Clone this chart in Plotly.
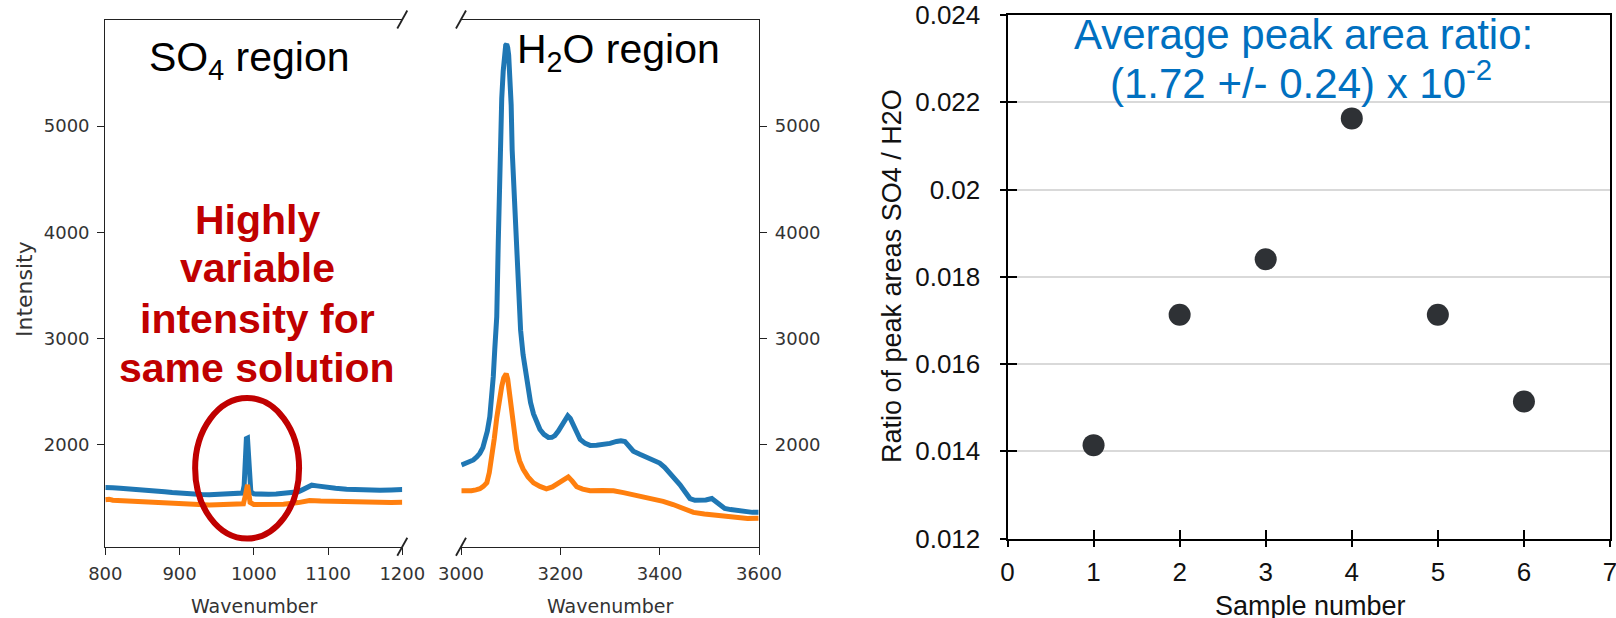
import plotly.graph_objects as go

# ---------------- data ----------------
so4_blue_wn = [800, 805, 810, 820, 830, 840, 850, 860, 870, 880, 890, 900, 910, 920, 930, 940, 950,
               960, 970, 980, 985, 987, 988.5, 990, 991.5, 993, 994.5, 996, 1000, 1010, 1020, 1030,
               1040, 1050, 1060, 1066, 1072, 1078, 1085, 1095, 1110, 1125, 1140, 1155, 1170, 1185, 1200]
so4_blue_int = [1600, 1604, 1598, 1592, 1588, 1586, 1580, 1575, 1568, 1560, 1552, 1545, 1540, 1536,
                1534, 1532, 1536, 1532, 1534, 1538, 1548, 1620, 1900, 2060, 2065, 1930, 1700, 1560,
                1540, 1535, 1536, 1538, 1542, 1548, 1560, 1580, 1605, 1622, 1615, 1602, 1592, 1584,
                1578, 1574, 1574, 1576, 1580]

so4_orange_wn = [800, 805, 810, 820, 830, 840, 850, 860, 870, 880, 890, 900, 910, 920, 930, 940, 950,
                 960, 970, 980, 986, 988.5, 990, 991.5, 993, 995, 1000, 1020, 1040, 1060, 1068, 1075,
                 1090, 1110, 1130, 1150, 1170, 1185, 1200]
so4_orange_int = [1485, 1490, 1480, 1476, 1472, 1468, 1465, 1460, 1455, 1450, 1446, 1442, 1440, 1438,
                  1436, 1435, 1437, 1437, 1439, 1440, 1446, 1520, 1610, 1625, 1560, 1460, 1440, 1438,
                  1442, 1458, 1468, 1478, 1472, 1468, 1464, 1460, 1458, 1460, 1462]

h2o_blue_wn = [3001, 3012, 3025, 3032, 3038, 3044, 3048, 3053, 3058, 3062, 3065, 3068, 3072, 3075,
               3078, 3080, 3082, 3085, 3088, 3090, 3092, 3094, 3096, 3099, 3101, 3103, 3106, 3109,
               3112, 3115, 3120, 3125, 3130, 3135, 3140, 3146, 3152, 3159, 3167, 3176, 3183, 3189,
               3196, 3203, 3209, 3215, 3220, 3226, 3233, 3240, 3250, 3260, 3273, 3286, 3300, 3313,
               3322, 3330, 3338, 3347, 3360, 3374, 3387, 3400, 3410, 3421, 3431, 3441, 3451, 3461,
               3471, 3481, 3493, 3505, 3510, 3515, 3523, 3531, 3543, 3555, 3565, 3575, 3587, 3599]
h2o_blue_int = [1812, 1830, 1859, 1888, 1922, 1975, 2031, 2130, 2266, 2440, 2643, 2900, 3207, 3900,
                4703, 5000, 5259, 5519, 5700, 5760, 5771, 5740, 5667, 5450, 5200, 4777, 4450, 4110,
                3720, 3368, 3080, 2849, 2670, 2515, 2400, 2293, 2210, 2145, 2100, 2071, 2072, 2088,
                2130, 2182, 2240, 2275, 2250, 2182, 2110, 2052, 2015, 1996, 1998, 2004, 2015, 2033,
                2040, 2033, 1990, 1941, 1912, 1885, 1860, 1830, 1790, 1737, 1680, 1626, 1560, 1496,
                1480, 1477, 1482, 1496, 1480, 1458, 1430, 1403, 1392, 1385, 1375, 1366, 1366, 1366]

h2o_orange_wn = [3001, 3012, 3021, 3030, 3038, 3045, 3052, 3057, 3062, 3067, 3072, 3077, 3082, 3086,
                 3089, 3091, 3094, 3097, 3100, 3104, 3108, 3112, 3118, 3125, 3135, 3146, 3159, 3172,
                 3184, 3196, 3206, 3216, 3224, 3233, 3245, 3260, 3285, 3307, 3327, 3347, 3367, 3387,
                 3407, 3427, 3447, 3468, 3490, 3515, 3535, 3555, 3577, 3599]
h2o_orange_int = [1570, 1566, 1570, 1578, 1588, 1610, 1644, 1740, 1885, 2060, 2256, 2420, 2552, 2630,
                  2663, 2670, 2620, 2515, 2380, 2218, 2070, 1959, 1850, 1774, 1700, 1644, 1610, 1588,
                  1605, 1644, 1675, 1700, 1660, 1607, 1585, 1570, 1572, 1570, 1552, 1532, 1515, 1496,
                  1470, 1440, 1402, 1366, 1350, 1336, 1322, 1310, 1308, 1310]

sample_number = [1, 2, 3, 4, 5, 6]
area_ratio = [0.01414, 0.01713, 0.01840, 0.02163, 0.01713, 0.01514]

ratio_tickvals = [0.012, 0.014, 0.016, 0.018, 0.020, 0.022, 0.024]
ratio_ticktext = ["0.012", "0.014", "0.016", "0.018", "0.02", "0.022", "0.024"]
sample_ticks = [0, 1, 2, 3, 4, 5, 6, 7]
so4_ticks = [800, 900, 1000, 1100, 1200]
h2o_ticks = [3000, 3200, 3400, 3600]
intensity_ticks = [2000, 3000, 4000, 5000]

# ---------------- geometry helpers ----------------
W, H = 1616, 618
def px(xp):
    return xp / W
def py(yp):
    return 1 - yp / H

BLUE = "#1f77b4"
ORANGE = "#ff7f0e"
MPL_TXT = "#333333"
MPL_FONT = "DejaVu Sans"
ARIAL = "Liberation Sans"

fig = go.Figure()

LW = 5
fig.add_trace(go.Scatter(x=so4_blue_wn, y=so4_blue_int, mode="lines",
                         line=dict(color=BLUE, width=LW), xaxis="x", yaxis="y", showlegend=False))
fig.add_trace(go.Scatter(x=so4_orange_wn, y=so4_orange_int, mode="lines",
                         line=dict(color=ORANGE, width=LW), xaxis="x", yaxis="y", showlegend=False))
fig.add_trace(go.Scatter(x=h2o_blue_wn, y=h2o_blue_int, mode="lines",
                         line=dict(color=BLUE, width=LW), xaxis="x2", yaxis="y2", showlegend=False))
fig.add_trace(go.Scatter(x=h2o_orange_wn, y=h2o_orange_int, mode="lines",
                         line=dict(color=ORANGE, width=LW), xaxis="x2", yaxis="y2", showlegend=False))
fig.add_trace(go.Scatter(x=sample_number, y=area_ratio, mode="markers",
                         marker=dict(color="#2e3135", size=22), xaxis="x3", yaxis="y3", showlegend=False))
# invisible companion so the inner half of the cross ticks is drawn
fig.add_trace(go.Scatter(x=sample_number, y=area_ratio, mode="markers",
                         marker=dict(opacity=0), hoverinfo="skip", xaxis="x4", yaxis="y4", showlegend=False))

y_int_range = [1043, 6003]
mpl_axis = dict(showline=True, linecolor="#222", linewidth=1.3, ticks="outside", ticklen=7,
                tickwidth=1.2, tickcolor="#222", showgrid=False, zeroline=False, automargin=False,
                tickfont=dict(family=MPL_FONT, size=18, color=MPL_TXT))

excel_tick = dict(family=ARIAL, size=26, color="#111")

fig.update_layout(
    width=W, height=H, margin=dict(l=0, r=0, t=0, b=0, autoexpand=False),
    paper_bgcolor="white", plot_bgcolor="white", showlegend=False,
    xaxis=dict(domain=[px(105.3), px(402.3)], range=[800, 1200], tickvals=so4_ticks,
               mirror=True, anchor="y", ticklabelstandoff=4, **mpl_axis),
    yaxis=dict(domain=[py(546.7), py(19.5)], range=y_int_range, tickvals=intensity_ticks,
               anchor="x", side="left", ticklabelstandoff=4, **mpl_axis),
    xaxis2=dict(domain=[px(461), px(759)], range=[3000, 3600], tickvals=h2o_ticks,
                mirror=True, anchor="y2", ticklabelstandoff=4, **mpl_axis),
    yaxis2=dict(domain=[py(546.7), py(19.5)], range=y_int_range, tickvals=intensity_ticks,
                anchor="x2", side="right", ticklabelstandoff=4, **mpl_axis),
    xaxis3=dict(domain=[px(1007.5), px(1610)], range=[0, 7], tickvals=sample_ticks,
                showline=True, linecolor="black", linewidth=2, mirror=True,
                ticks="outside", ticklen=6, tickwidth=2, tickcolor="black", automargin=False,
                showgrid=False, zeroline=False, anchor="y3", tickfont=excel_tick,
                ticklabelstandoff=3, ticklabeloverflow="allow"),
    yaxis3=dict(domain=[py(538.5), py(15)], range=[0.012, 0.024], tickvals=ratio_tickvals,
                ticktext=ratio_ticktext, showline=True, linecolor="black", linewidth=2, mirror=True,
                ticks="outside", ticklen=6, tickwidth=2, tickcolor="black", automargin=False,
                showgrid=True, gridcolor="#d9d9d9", gridwidth=1.5, zeroline=False,
                anchor="x3", tickfont=excel_tick, ticklabelstandoff=14, ticklabeloverflow="allow"),
    xaxis4=dict(overlaying="x3", anchor="y4", range=[0, 7], tickvals=sample_ticks,
                ticks="inside", ticklen=9, tickwidth=2, tickcolor="black", automargin=False,
                showticklabels=False, showline=False, showgrid=False, zeroline=False),
    yaxis4=dict(overlaying="y3", anchor="x4", range=[0.012, 0.024], tickvals=ratio_tickvals,
                ticks="inside", ticklen=9, tickwidth=2, tickcolor="black", automargin=False,
                showticklabels=False, showline=False, showgrid=False, zeroline=False),
)

# axis break marks
def brk(xref, yref, xa, ya):
    return dict(type="line", xref=xref, yref=yref, xsizemode="pixel", ysizemode="pixel",
                xanchor=xa, yanchor=ya, x0=-5, x1=5, y0=-9, y1=9,
                line=dict(color="#222", width=1.8))

shapes = [brk("x domain", "y domain", 1, 1), brk("x domain", "y domain", 1, 0),
          brk("x2 domain", "y2 domain", 0, 1), brk("x2 domain", "y2 domain", 0, 0)]
# highlight ellipse around the SO4 peak
shapes.append(dict(type="circle", xref="x", yref="y", x0=921, x1=1061, y0=1119, y1=2442,
                   line=dict(color="#c00000", width=6)))
fig.update_layout(shapes=shapes)

ann = []
def text(t, xp, yp, size, color, family=ARIAL, angle=0, bold=False):
    if bold:
        t = "<b>" + t + "</b>"
    ann.append(dict(text=t, x=px(xp), y=py(yp), xref="paper", yref="paper", showarrow=False,
                    xanchor="center", yanchor="middle", textangle=angle,
                    font=dict(family=family, size=size, color=color)))

# matplotlib axis titles
text("Intensity", 25, 289, 22, MPL_TXT, MPL_FONT, angle=-90)
text("Wavenumber", 254, 606, 19, MPL_TXT, MPL_FONT)
text("Wavenumber", 610, 606, 19, MPL_TXT, MPL_FONT)
# region labels
text("SO<sub>4</sub> region", 249, 60, 41, "black")
text("H<sub>2</sub>O region", 618, 52, 41, "black")
# red callout
for line, base in zip(["Highly", "variable", "intensity for", "same solution"], [235, 283, 333, 382]):
    text(line, 257, base - 14.5, 41, "#c00000", bold=True)
# right chart titles
text("Sample number", 1310, 606, 27, "#111")
text("Ratio of peak areas SO4 / H2O", 892, 276, 27, "#111", angle=-90)
text("Average peak area ratio:", 1303, 34, 42, "#0070c0")
text("(1.72 +/- 0.24) x 10<sup>-2</sup>", 1301, 80, 42, "#0070c0")
fig.update_layout(annotations=ann)

fig.write_html("out.html", config={"displayModeBar": False},
               post_script="document.body.style.margin='0px';document.body.style.overflow='hidden';")
